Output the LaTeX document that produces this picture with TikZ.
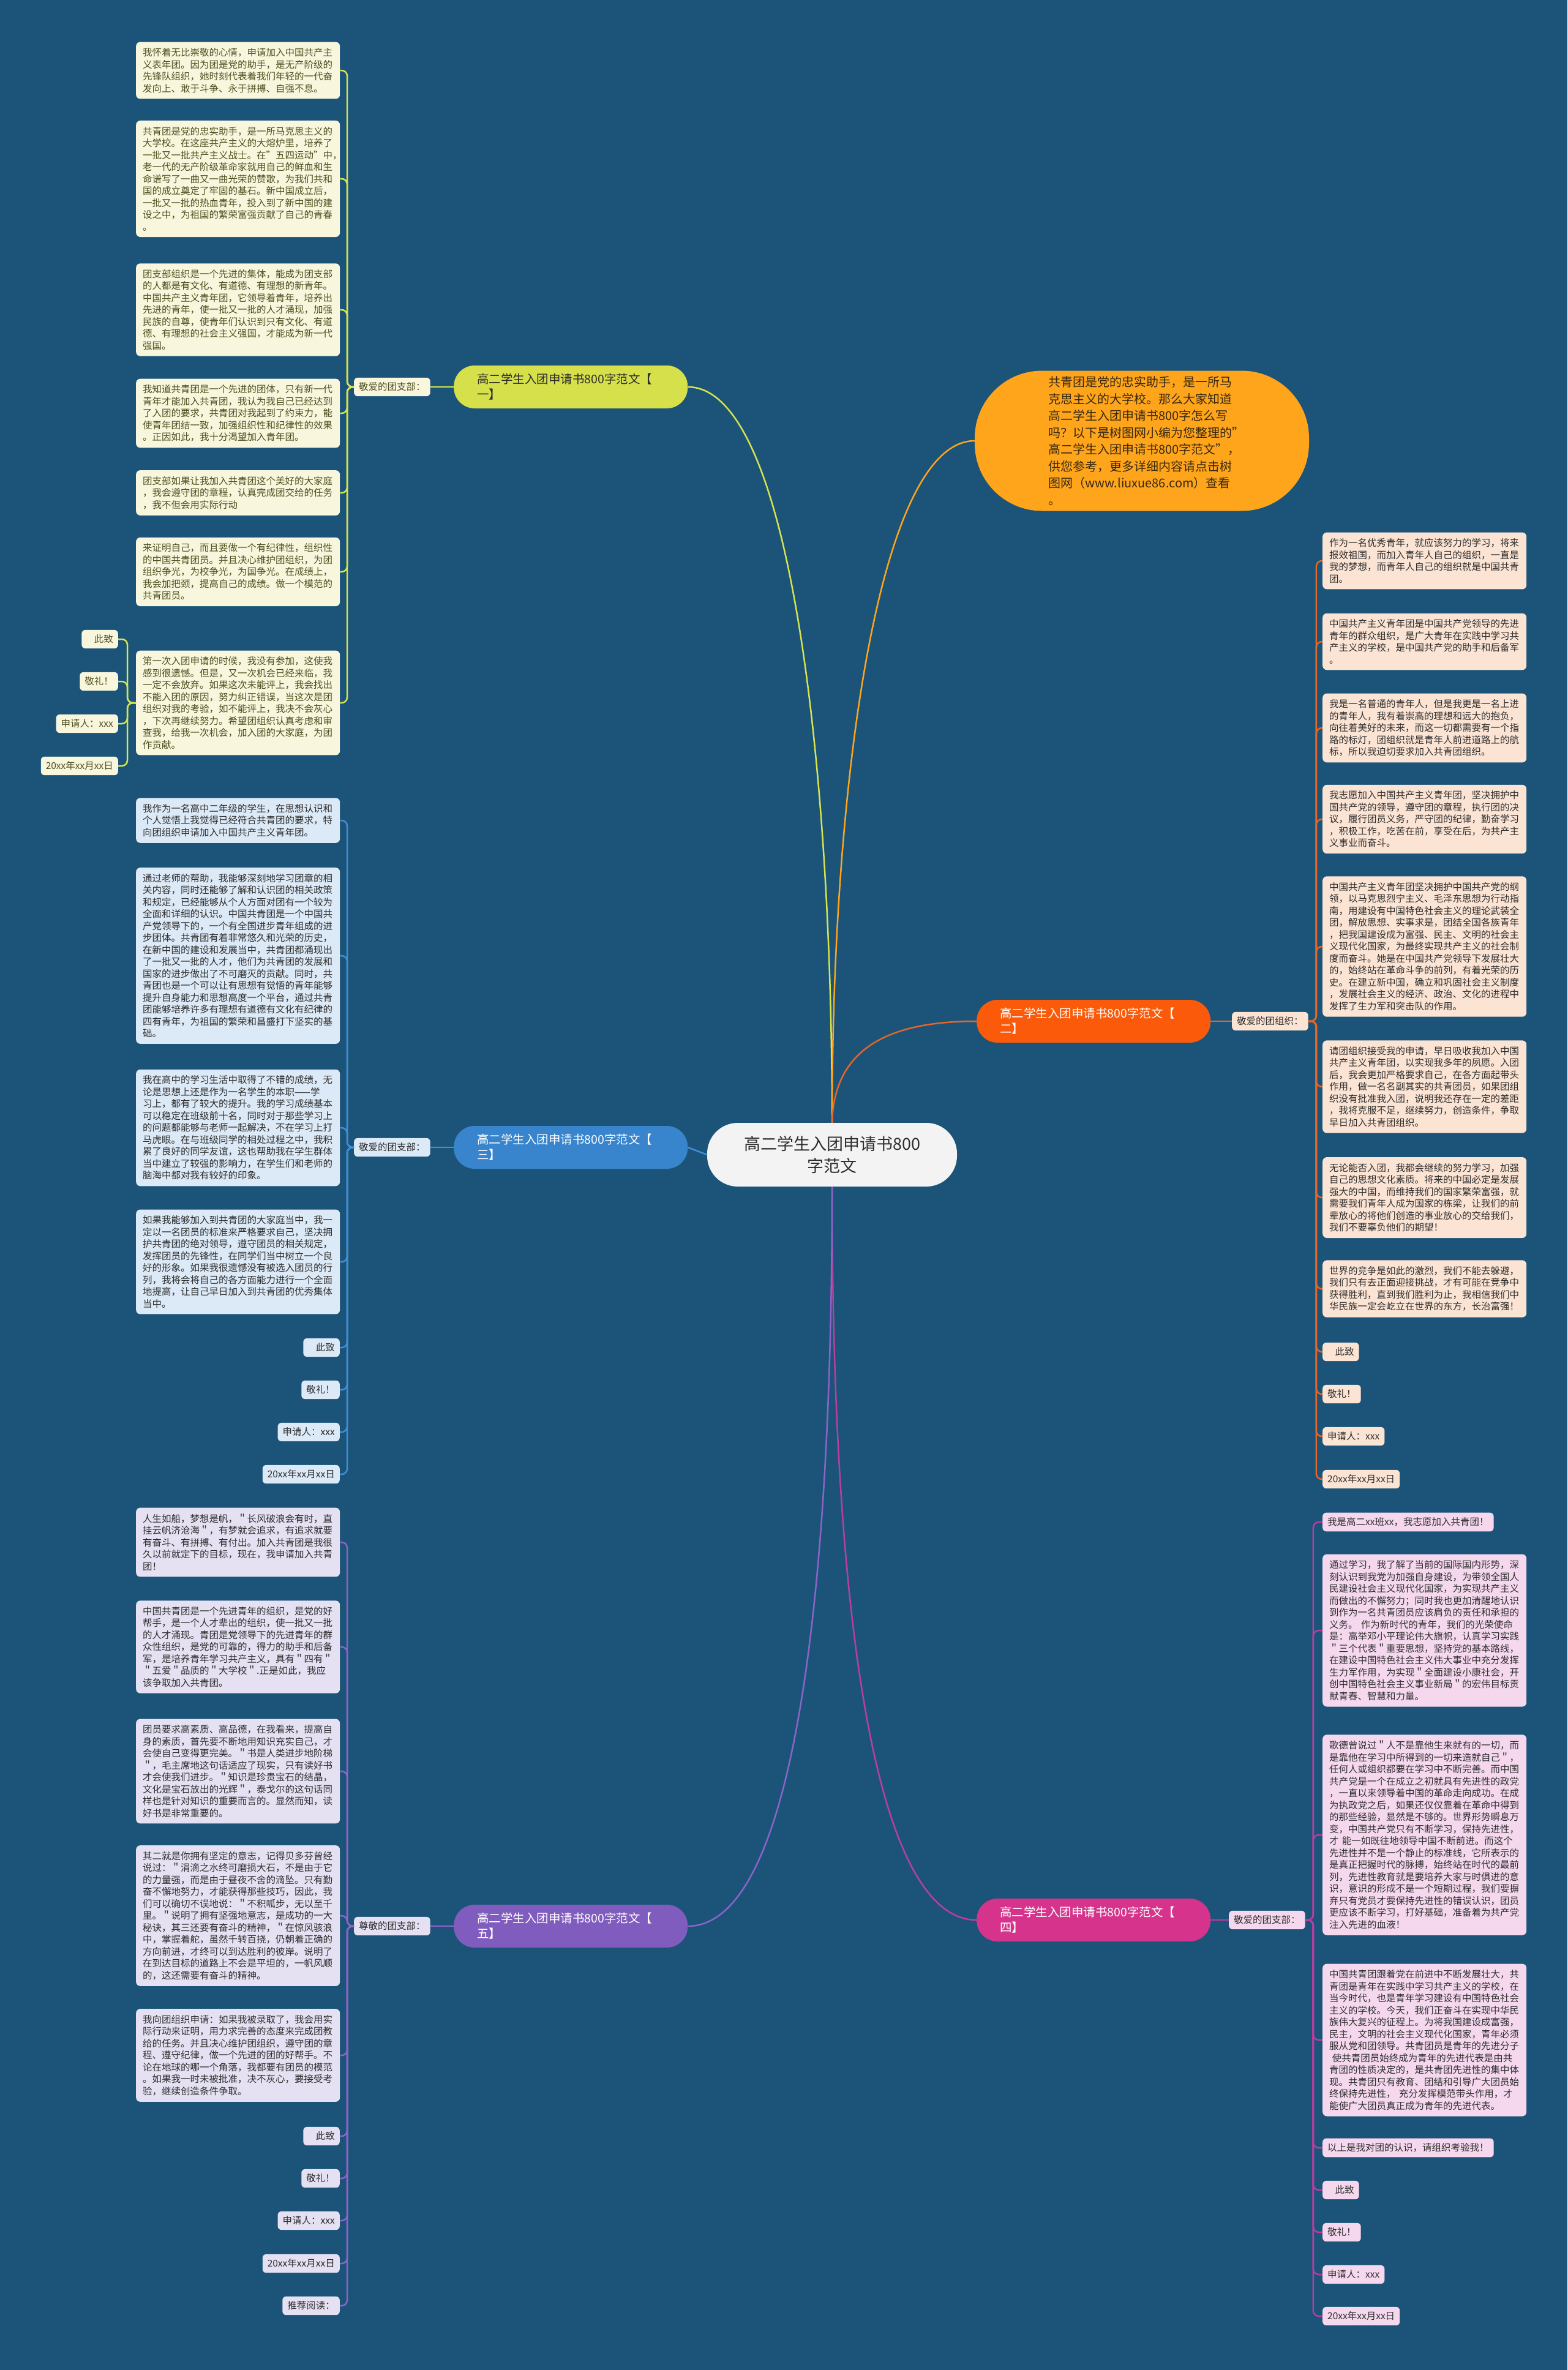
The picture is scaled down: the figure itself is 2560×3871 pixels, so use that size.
\documentclass[tikz,border=0pt]{standalone}
\usepackage{fontspec}
\setmainfont{Noto Sans CJK SC}
\definecolor{colbg}{RGB}{27,84,120}
\definecolor{colroot}{RGB}{243,243,243}
\definecolor{coldark}{RGB}{45,45,45}
\definecolor{colA}{RGB}{213,224,74}
\definecolor{colAl}{RGB}{248,247,222}
\definecolor{colAt}{RGB}{78,78,30}
\definecolor{colAline}{RGB}{214,228,80}
\definecolor{colB}{RGB}{250,90,10}
\definecolor{colBl}{RGB}{252,228,212}
\definecolor{colBline}{RGB}{228,102,40}
\definecolor{colC}{RGB}{56,132,205}
\definecolor{colCl}{RGB}{220,233,246}
\definecolor{colCline}{RGB}{66,142,214}
\definecolor{colD}{RGB}{214,52,140}
\definecolor{colDl}{RGB}{245,216,238}
\definecolor{colDline}{RGB}{186,62,160}
\definecolor{colE}{RGB}{128,92,190}
\definecolor{colEl}{RGB}{229,225,243}
\definecolor{colEline}{RGB}{140,100,200}
\definecolor{colOval}{RGB}{255,165,28}
\definecolor{colOvalt}{RGB}{55,40,15}
\begin{document}
\begin{tikzpicture}[x=1pt,y=-1pt,
  every node/.style={font=\fontsize{15.5}{19.5}\selectfont},
  leafbox/.style={rounded corners=7pt, text width=311pt, align=left, inner xsep=11pt, inner ysep=10pt, anchor=west},
  tagbox/.style={rounded corners=6pt, inner xsep=8pt, inner ysep=8pt},
  lblbox/.style={rounded corners=6pt, inner xsep=8pt, inner ysep=8pt, anchor=west},
  branchbox/.style={rounded corners=34pt, minimum height=70pt, text width=306pt, inner xsep=38pt, align=left, anchor=west, font=\fontsize{19.5}{25}\selectfont},
  secA/.style={fill=colAl, text=colAt},
  secB/.style={fill=colBl, text=coldark},
  secC/.style={fill=colCl, text=coldark},
  secD/.style={fill=colDl, text=coldark},
  secE/.style={fill=colEl, text=coldark},
  link/.style={line width=2.5pt},
  brk/.style={line width=2.5pt, rounded corners=9pt},
]
\fill[colbg] (0,0) rectangle (2560,3871);
\useasboundingbox (0,0) rectangle (2560,3871);

% ---------- root and top note ----------
\node[fill=colroot, text=coldark, rounded corners=50pt, minimum width=408pt, minimum height=104pt, align=center, font=\fontsize{27}{36}\selectfont] (R) at (1359,1886) {高二学生入团申请书800\\字范文};

\node[fill=colOval, text=colOvalt, rounded corners=110pt, minimum width=546pt, minimum height=229pt, text width=305pt, align=left, font=\fontsize{20}{27.5}\selectfont] (OV) at (1865,720) {共青团是党的忠实助手，是一所马\\克思主义的大学校。那么大家知道\\高二学生入团申请书800字怎么写\\吗？以下是树图网小编为您整理的"\\高二学生入团申请书800字范文"，\\供您参考，更多详细内容请点击树\\图网（www.liuxue86.com）查看\\。};

% ---------- branches ----------
\node[branchbox, fill=colA, text=coldark] (B1) at (741,632) {高二学生入团申请书800字范文【\\一】};
\node[branchbox, fill=colB, text=white] (B2) at (1595,1668) {高二学生入团申请书800字范文【\\二】};
\node[branchbox, fill=colC, text=white] (B3) at (741,1874) {高二学生入团申请书800字范文【\\三】};
\node[branchbox, fill=colD, text=white] (B4) at (1595,3136) {高二学生入团申请书800字范文【\\四】};
\node[branchbox, fill=colE, text=white] (B5) at (741,3146) {高二学生入团申请书800字范文【\\五】};

\node[lblbox, secA] (T1) at (578,632) {敬爱的团支部：};
\node[lblbox, secB] (T2) at (2012,1668) {敬爱的团组织：};
\node[lblbox, secC] (T3) at (578,1874) {敬爱的团支部：};
\node[lblbox, secD] (T4) at (2007,3136) {敬爱的团支部：};
\node[lblbox, secE] (T5) at (578,3146) {尊敬的团支部：};

\draw[link, colAline] (R.north) .. controls (1359,1250) and (1290,632) .. (B1.east);
\draw[link, colOval] (R.north) .. controls (1359,1250) and (1440,720) .. (OV.west);
\draw[link, colBline] (R.north) .. controls (1362,1720) and (1440,1668) .. (B2.west);
\draw[link, colCline] (R.west) -- (B3.east);
\draw[link, colDline] (R.south) .. controls (1359,2700) and (1440,3136) .. (B4.west);
\draw[link, colEline] (R.south) .. controls (1359,2700) and (1280,3146) .. (B5.east);

\draw[link, colAline] (B1.west) -- (T1.east);
\draw[link, colBline] (B2.east) -- (T2.west);
\draw[link, colCline] (B3.west) -- (T3.east);
\draw[link, colDline] (B4.east) -- (T4.west);
\draw[link, colEline] (B5.west) -- (T5.east);

% ---------- section 一 ----------
\node[leafbox, secA] (a1) at (222,115) {我怀着无比崇敬的心情，申请加入中国共产主\\义表年团。因为团是党的助手，是无产阶级的\\先锋队组织，她时刻代表着我们年轻的一代奋\\发向上、敢于斗争、永于拼搏、自强不息。};
\node[leafbox, secA] (a2) at (222,292) {共青团是党的忠实助手，是一所马克思主义的\\大学校。在这座共产主义的大熔炉里，培养了\\一批又一批共产主义战士。在"五四运动"中，\\老一代的无产阶级革命家就用自己的鲜血和生\\命谱写了一曲又一曲光荣的赞歌，为我们共和\\国的成立奠定了牢固的基石。新中国成立后，\\一批又一批的热血青年，投入到了新中国的建\\设之中，为祖国的繁荣富强贡献了自己的青春\\。};
\node[leafbox, secA] (a3) at (222,506) {团支部组织是一个先进的集体，能成为团支部\\的人都是有文化、有道德、有理想的新青年。\\中国共产主义青年团，它领导着青年，培养出\\先进的青年，使一批又一批的人才涌现，加强\\民族的自尊，使青年们认识到只有文化、有道\\德、有理想的社会主义强国，才能成为新一代\\强国。};
\node[leafbox, secA] (a4) at (222,675) {我知道共青团是一个先进的团体，只有新一代\\青年才能加入共青团，我认为我自己已经达到\\了入团的要求，共青团对我起到了约束力，能\\使青年团结一致，加强组织性和纪律性的效果\\。正因如此，我十分渴望加入青年团。};
\node[leafbox, secA] (a5) at (222,805) {团支部如果让我加入共青团这个美好的大家庭\\，我会遵守团的章程，认真完成团交给的任务\\，我不但会用实际行动};
\node[leafbox, secA] (a6) at (222,934) {来证明自己，而且要做一个有纪律性，组织性\\的中国共青团员。并且决心维护团组织，为团\\组织争光，为校争光，为国争光。在成绩上，\\我会加把颈，提高自己的成绩。做一个模范的\\共青团员。};
\node[leafbox, secA] (a7) at (222,1148) {第一次入团申请的时候，我没有参加，这使我\\感到很遗憾。但是，又一次机会已经来临，我\\一定不会放弃。如果这次未能评上，我会找出\\不能入团的原因，努力纠正错误，当这次是团\\组织对我的考验，如不能评上，我决不会灰心\\，下次再继续努力。希望团组织认真考虑和审\\查我，给我一次机会，加入团的大家庭，为团\\作贡献。};
\node[tagbox, secA, anchor=east] (as1) at (193,1044) {\hspace*{0.8em}此致};
\node[tagbox, secA, anchor=east] (as2) at (193,1113) {敬礼！};
\node[tagbox, secA, anchor=east] (as3) at (193,1182) {申请人：xxx};
\node[tagbox, secA, anchor=east] (as4) at (193,1251) {20xx年xx月xx日};
\foreach \n in {a1,a2,a3,a4,a5,a6,a7}
  \draw[brk, colAline] (T1.west) -- ++(-11,0) |- (\n.east);
\foreach \n in {as1,as2,as3,as4}
  \draw[brk, colAline] (a7.west) -- ++(-14,0) |- (\n.east);

% ---------- section 三 ----------
\node[leafbox, secC] (c1) at (222,1340) {我作为一名高中二年级的学生，在思想认识和\\个人觉悟上我觉得已经符合共青团的要求，特\\向团组织申请加入中国共产主义青年团。};
\node[leafbox, secC] (c2) at (222,1561) {通过老师的帮助，我能够深刻地学习团章的相\\关内容，同时还能够了解和认识团的相关政策\\和规定，已经能够从个人方面对团有一个较为\\全面和详细的认识。中国共青团是一个中国共\\产党领导下的，一个有全国进步青年组成的进\\步团体。共青团有着非常悠久和光荣的历史，\\在新中国的建设和发展当中，共青团都涌现出\\了一批又一批的人才，他们为共青团的发展和\\国家的进步做出了不可磨灭的贡献。同时，共\\青团也是一个可以让有思想有觉悟的青年能够\\提升自身能力和思想高度一个平台，通过共青\\团能够培养许多有理想有道德有文化有纪律的\\四有青年，为祖国的繁荣和昌盛打下坚实的基\\础。};
\node[leafbox, secC] (c3) at (222,1842) {我在高中的学习生活中取得了不错的成绩，无\\论是思想上还是作为一名学生的本职——学\\习上，都有了较大的提升。我的学习成绩基本\\可以稳定在班级前十名，同时对于那些学习上\\的问题都能够与老师一起解决，不在学习上打\\马虎眼。在与班级同学的相处过程之中，我积\\累了良好的同学友谊，这也帮助我在学生群体\\当中建立了较强的影响力，在学生们和老师的\\脑海中都对我有较好的印象。};
\node[leafbox, secC] (c4) at (222,2061) {如果我能够加入到共青团的大家庭当中，我一\\定以一名团员的标准来严格要求自己，坚决拥\\护共青团的绝对领导，遵守团员的相关规定，\\发挥团员的先锋性，在同学们当中树立一个良\\好的形象。如果我很遗憾没有被选入团员的行\\列，我将会将自己的各方面能力进行一个全面\\地提高，让自己早日加入到共青团的优秀集体\\当中。};
\node[tagbox, secC, anchor=east] (cs1) at (555,2201) {\hspace*{0.8em}此致};
\node[tagbox, secC, anchor=east] (cs2) at (555,2270) {敬礼！};
\node[tagbox, secC, anchor=east] (cs3) at (555,2339) {申请人：xxx};
\node[tagbox, secC, anchor=east] (cs4) at (555,2408) {20xx年xx月xx日};
\foreach \n in {c1,c2,c3,c4,cs1,cs2,cs3,cs4}
  \draw[brk, colCline] (T3.west) -- ++(-11,0) |- (\n.east);

% ---------- section 五 ----------
\node[leafbox, secE] (e1) at (222,2519) {人生如船，梦想是帆，＂长风破浪会有时，直\\挂云帆济沧海＂，有梦就会追求，有追求就要\\有奋斗、有拼搏、有付出。加入共青团是我很\\久以前就定下的目标，现在，我申请加入共青\\团！};
\node[leafbox, secE] (e2) at (222,2690) {中国共青团是一个先进青年的组织，是党的好\\帮手，是一个人才辈出的组织，使一批又一批\\的人才涌现。青团是党领导下的先进青年的群\\众性组织，是党的可靠的，得力的助手和后备\\军，是培养青年学习共产主义，具有＂四有＂\\＂五爱＂品质的＂大学校＂.正是如此，我应\\该争取加入共青团。};
\node[leafbox, secE] (e3) at (222,2893) {团员要求高素质、高品德，在我看来，提高自\\身的素质，首先要不断地用知识充实自己，才\\会使自己变得更完美。＂书是人类进步地阶梯\\＂，毛主席地这句话适应了现实，只有读好书\\才会使我们进步。＂知识是珍贵宝石的结晶，\\文化是宝石放出的光辉＂，泰戈尔的这句话同\\样也是针对知识的重要而言的。显然而知，读\\好书是非常重要的。};
\node[leafbox, secE] (e4) at (222,3129) {其二就是你拥有坚定的意志，记得贝多芬曾经\\说过：＂涓滴之水终可磨损大石，不是由于它\\的力量强，而是由于昼夜不舍的滴坠。只有勤\\奋不懈地努力，才能获得那些技巧，因此，我\\们可以确切不误地说：＂不积呱步，无以至千\\里。＂说明了拥有坚强地意志，是成功的一大\\秘诀，其三还要有奋斗的精神，＂在惊风骇浪\\中，掌握着舵，虽然千转百挠，仍朝着正确的\\方向前进，才终可以到达胜利的彼岸。说明了\\在到达目标的道路上不会是平坦的，一帆风顺\\的，这还需要有奋斗的精神。};
\node[leafbox, secE] (e5) at (222,3357) {我向团组织申请：如果我被录取了，我会用实\\际行动来证明，用力求完善的态度来完成团教\\给的任务。并且决心维护团组织，遵守团的章\\程、遵守纪律，做一个先进的团的好帮手。不\\论在地球的哪一个角落，我都要有团员的模范\\。如果我一时未被批准，决不灰心，要接受考\\验，继续创造条件争取。};
\node[tagbox, secE, anchor=east] (es1) at (555,3489) {\hspace*{0.8em}此致};
\node[tagbox, secE, anchor=east] (es2) at (555,3558) {敬礼！};
\node[tagbox, secE, anchor=east] (es3) at (555,3627) {申请人：xxx};
\node[tagbox, secE, anchor=east] (es4) at (555,3697) {20xx年xx月xx日};
\node[tagbox, secE, anchor=east] (es5) at (555,3766) {推荐阅读：};
\foreach \n in {e1,e2,e3,e4,e5,es1,es2,es3,es4,es5}
  \draw[brk, colEline] (T5.west) -- ++(-11,0) |- (\n.east);

% ---------- section 二 ----------
\node[leafbox, secB] (b1) at (2160,916) {作为一名优秀青年，就应该努力的学习，将来\\报效祖国，而加入青年人自己的组织，一直是\\我的梦想，而青年人自己的组织就是中国共青\\团。};
\node[leafbox, secB] (b2) at (2160,1048) {中国共产主义青年团是中国共产党领导的先进\\青年的群众组织，是广大青年在实践中学习共\\产主义的学校，是中国共产党的助手和后备军\\。};
\node[leafbox, secB] (b3) at (2160,1189) {我是一名普通的青年人，但是我更是一名上进\\的青年人，我有着崇高的理想和远大的抱负，\\向往着美好的未来，而这一切都需要有一个指\\路的标灯，团组织就是青年人前进道路上的航\\标，所以我迫切要求加入共青团组织。};
\node[leafbox, secB] (b4) at (2160,1338) {我志愿加入中国共产主义青年团，坚决拥护中\\国共产党的领导，遵守团的章程，执行团的决\\议，履行团员义务，严守团的纪律，勤奋学习\\，积极工作，吃苦在前，享受在后，为共产主\\义事业而奋斗。};
\node[leafbox, secB] (b5) at (2160,1546) {中国共产主义青年团坚决拥护中国共产党的纲\\领，以马克思烈宁主义、毛泽东思想为行动指\\南，用建设有中国特色社会主义的理论武装全\\团，解放思想、实事求是，团结全国各族青年\\，把我国建设成为富强、民主、文明的社会主\\义现代化国家，为最终实现共产主义的社会制\\度而奋斗。她是在中国共产党领导下发展壮大\\的，始终站在革命斗争的前列，有着光荣的历\\史。在建立新中国，确立和巩固社会主义制度\\，发展社会主义的经济、政治、文化的进程中\\发挥了生力军和突击队的作用。};
\node[leafbox, secB] (b6) at (2160,1775) {请团组织接受我的申请，早日吸收我加入中国\\共产主义青年团，以实现我多年的夙愿。入团\\后，我会更加严格要求自己，在各方面起带头\\作用，做一名名副其实的共青团员，如果团组\\织没有批准我入团，说明我还存在一定的差距\\，我将克服不足，继续努力，创造条件，争取\\早日加入共青团组织。};
\node[leafbox, secB] (b7) at (2160,1956) {无论能否入团，我都会继续的努力学习，加强\\自己的思想文化素质。将来的中国必定是发展\\强大的中国，而维持我们的国家繁荣富强，就\\需要我们青年人成为国家的栋梁，让我们的前\\辈放心的将他们创造的事业放心的交给我们，\\我们不要辜负他们的期望！};
\node[leafbox, secB] (b8) at (2160,2105) {世界的竞争是如此的激烈，我们不能去躲避，\\我们只有去正面迎接挑战，才有可能在竞争中\\获得胜利，直到我们胜利为止，我相信我们中\\华民族一定会屹立在世界的东方，长治富强！};
\node[tagbox, secB, anchor=west] (bs1) at (2160,2208) {\hspace*{0.8em}此致};
\node[tagbox, secB, anchor=west] (bs2) at (2160,2277) {敬礼！};
\node[tagbox, secB, anchor=west] (bs3) at (2160,2346) {申请人：xxx};
\node[tagbox, secB, anchor=west] (bs4) at (2160,2416) {20xx年xx月xx日};
\foreach \n in {b1,b2,b3,b4,b5,b6,b7,b8,bs1,bs2,bs3,bs4}
  \draw[brk, colBline] (T2.east) -- ++(13,0) |- (\n.west);

% ---------- section 四 ----------
\node[tagbox, secD, anchor=west] (d1) at (2160,2486) {我是高二xx班xx，我志愿加入共青团！};
\node[leafbox, secD] (d2) at (2160,2663) {通过学习，我了解了当前的国际国内形势，深\\刻认识到我党为加强自身建设，为带领全国人\\民建设社会主义现代化国家，为实现共产主义\\而做出的不懈努力；同时我也更加清醒地认识\\到作为一名共青团员应该肩负的责任和承担的\\义务。 作为新时代的青年，我们的光荣使命\\是：高举邓小平理论伟大旗帜，认真学习实践\\＂三个代表＂重要思想，坚持党的基本路线，\\在建设中国特色社会主义伟大事业中充分发挥\\生力军作用，为实现＂全面建设小康社会，开\\创中国特色社会主义事业新局＂的宏伟目标贡\\献青春、智慧和力量。};
\node[leafbox, secD] (d3) at (2160,2997) {歌德曾说过＂人不是靠他生来就有的一切，而\\是靠他在学习中所得到的一切来造就自己＂，\\任何人或组织都要在学习中不断完善。而中国\\共产党是一个在成立之初就具有先进性的政党\\，一直以来领导着中国的革命走向成功。在成\\为执政党之后，如果还仅仅靠着在革命中得到\\的那些经验，显然是不够的。世界形势瞬息万\\变，中国共产党只有不断学习，保持先进性，\\才 能一如既往地领导中国不断前进。而这个\\先进性并不是一个静止的标准线，它所表示的\\是真正把握时代的脉搏，始终站在时代的最前\\列，先进性教育就是要培养大家与时俱进的意\\识，意识的形成不是一个短期过程，我们要摒\\弃只有党员才要保持先进性的错误认识，团员\\更应该不断学习，打好基础，准备着为共产党\\注入先进的血液！};
\node[leafbox, secD] (d4) at (2160,3332) {中国共青团跟着党在前进中不断发展壮大，共\\青团是青年在实践中学习共产主义的学校，在\\当今时代，也是青年学习建设有中国特色社会\\主义的学校。今天，我们正奋斗在实现中华民\\族伟大复兴的征程上。为将我国建设成富强，\\民主，文明的社会主义现代化国家，青年必须\\服从党和团领导。共青团员是青年的先进分子\\\hspace*{0.3em}使共青团员始终成为青年的先进代表是由共\\青团的性质决定的，是共青团先进性的集中体\\现。共青团只有教育、团结和引导广大团员始\\终保持先进性， 充分发挥模范带头作用，才\\能使广大团员真正成为青年的先进代表。};
\node[tagbox, secD, anchor=west] (d5) at (2160,3508) {以上是我对团的认识，请组织考验我！};
\node[tagbox, secD, anchor=west] (ds1) at (2160,3577) {\hspace*{0.8em}此致};
\node[tagbox, secD, anchor=west] (ds2) at (2160,3646) {敬礼！};
\node[tagbox, secD, anchor=west] (ds3) at (2160,3715) {申请人：xxx};
\node[tagbox, secD, anchor=west] (ds4) at (2160,3783) {20xx年xx月xx日};
\foreach \n in {d1,d2,d3,d4,d5,ds1,ds2,ds3,ds4}
  \draw[brk, colDline] (T4.east) -- ++(13,0) |- (\n.west);
\end{tikzpicture}
\end{document}
